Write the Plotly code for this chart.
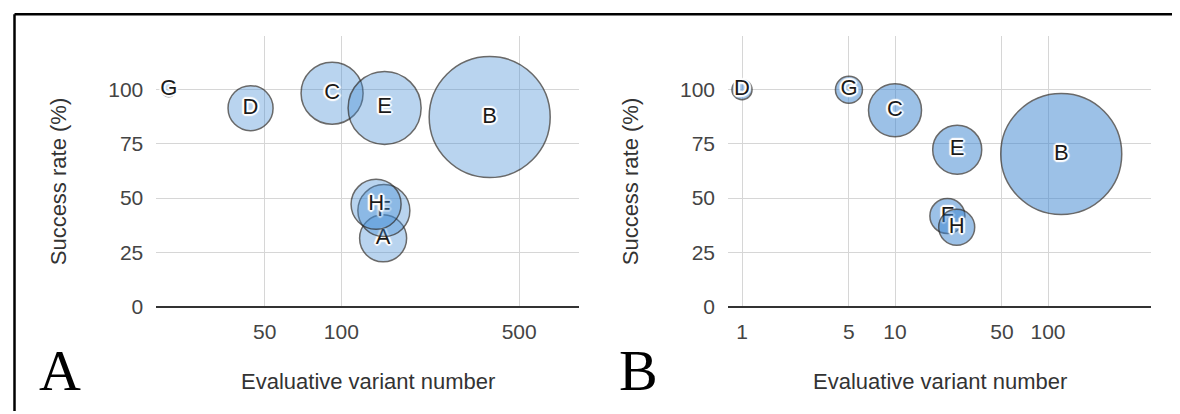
import plotly.graph_objects as go

# ---------------- data ----------------
# Panel A
labels_A = ["A", "B", "C", "D", "E", "F", "G", "H"]
variants_A = [146, 383, 92, 44, 148, 147, 21, 137]
success_A = [31.4, 87.4, 98.4, 91.5, 91.6, 44.2, 100, 47.1]
bubble_A = [47, 121, 62, 45, 73, 52, 14, 50]

# Panel B
labels_B = ["B", "C", "D", "E", "F", "G", "H"]
variants_B = [122, 10, 1, 25.5, 22, 5, 25.3]
success_B = [70.3, 90.5, 100, 72.3, 41.7, 100, 36.5]
bubble_B = [121, 53, 20, 49, 35, 27, 36]

xticks_A = [50, 100, 500]
xticks_B = [1, 5, 10, 50, 100]
yticks = [0, 25, 50, 75, 100, 125]
yticklabels = ["0", "25", "50", "75", "100", ""]

W, H = 1180, 414
FONT = "Liberation Sans, Arial, sans-serif"
halo = ("0 0 3px #fff, 0 0 3px #fff, 0 0 3px #fff, 0 0 3px #fff, "
        "2px 0 1px #fff, -2px 0 1px #fff, 0 2px 1px #fff, 0 -2px 1px #fff, "
        "1px 1px 1px #fff, -1px -1px 1px #fff, 1px -1px 1px #fff, -1px 1px 1px #fff")

fig = go.Figure()


def add_bubbles(labels, xs, ys, sizes, xref, yref, fill):
    for lab, x, y, s in zip(labels, xs, ys, sizes):
        fig.add_trace(go.Scatter(
            x=[x], y=[y], text=[lab], mode="markers+text",
            xaxis=xref, yaxis=yref,
            textposition="middle center",
            textfont=dict(family=FONT, size=22, color="#1a1a1a", shadow=halo),
            marker=dict(size=[s], sizemode="diameter", sizeref=1,
                        color=fill, line=dict(color="#2a2a2a", width=1.5)),
            cliponaxis=False, hoverinfo="skip", showlegend=False,
        ))


add_bubbles(labels_A, variants_A, success_A, bubble_A, "x", "y", "rgba(65,140,212,0.52)")
add_bubbles(labels_B, variants_B, success_B, bubble_B, "x2", "y2", "rgba(55,130,208,0.70)")

ydom = [1 - 306.5 / H, 1 - 28.3 / H]
dom_A = [148.3 / W, 570.7 / W]
dom_B = [720 / W, 1143.3 / W]

grid = "#d6d6d6"
common_x = dict(type="log", showgrid=True, gridcolor=grid, gridwidth=1.3,
                zeroline=False, showline=True, linecolor="#333", linewidth=1.6,
                ticks="", ticklabelstandoff=6,
                tickfont=dict(family=FONT, size=21, color="#444"))
common_y = dict(range=[0, 125], tickvals=yticks, ticktext=yticklabels,
                showgrid=True, gridcolor=grid, gridwidth=1.3, zeroline=False,
                showline=False, ticks="", ticklabelstandoff=12,
                tickfont=dict(family=FONT, size=21, color="#444"))

fig.update_layout(
    width=W, height=H, margin=dict(l=0, r=0, t=0, b=0),
    paper_bgcolor="white", plot_bgcolor="white",
    xaxis=dict(domain=dom_A, range=[1.273, 2.933], tickvals=xticks_A,
               ticktext=[str(v) for v in xticks_A], anchor="y", **common_x),
    yaxis=dict(domain=ydom, anchor="x", **common_y),
    xaxis2=dict(domain=dom_B, range=[-0.0915, 2.675], tickvals=xticks_B,
                ticktext=[str(v) for v in xticks_B], anchor="y2", **common_x),
    yaxis2=dict(domain=ydom, anchor="x2", **common_y),
)

annos = []
for xc_title, yc in [(50, 178), (622, 178)]:
    annos.append(dict(text="Success rate (%)", x=xc_title / W, y=1 - yc / H,
                      xref="paper", yref="paper", textangle=-90, showarrow=False,
                      xanchor="center", yanchor="middle",
                      font=dict(family=FONT, size=22, color="#333")))
for xc in [(dom_A[0] + dom_A[1]) / 2, (dom_B[0] + dom_B[1]) / 2]:
    annos.append(dict(text="Evaluative variant number", x=xc, y=1 - 384 / H,
                      xref="paper", yref="paper", showarrow=False,
                      xanchor="center", yanchor="middle",
                      font=dict(family=FONT, size=22, color="#333")))
for letter, xc in [("A", 52), ("B", 630)]:
    annos.append(dict(text=letter, x=xc / W, y=1 - 372 / H, xref="paper", yref="paper",
                      showarrow=False, xanchor="center", yanchor="middle",
                      font=dict(family="Liberation Serif, Times New Roman, serif",
                                size=58, color="#000")))
fig.update_layout(annotations=annos)

# frame (top and left edges visible in the reference)
fig.add_shape(type="line", xref="paper", yref="paper",
              x0=6.5 / W, x1=1, y0=1 - 6.3 / H, y1=1 - 6.3 / H,
              line=dict(color="#000", width=2.5))
fig.add_shape(type="line", xref="paper", yref="paper",
              x0=6.5 / W, x1=6.5 / W, y0=0, y1=1 - 6.3 / H,
              line=dict(color="#000", width=2.5))

fig.write_html("out.html")
